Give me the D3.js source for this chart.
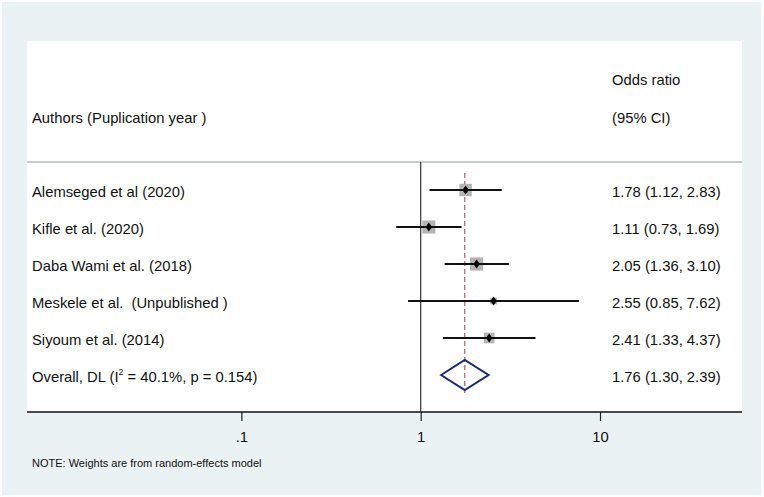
<!DOCTYPE html>
<html>
<head>
<meta charset="utf-8">
<script src="https://cdn.jsdelivr.net/npm/d3@7"></script>
<style>
  body { margin: 0; background: #fff; }
  text { font-family: "Liberation Sans", Arial, sans-serif; fill: #111; white-space: pre; }
</style>
</head>
<body>
<div id="forest"></div>
<script>
// study rows
const studies = [
  'Alemseged et al (2020)',
  'Kifle et al. (2020)',
  'Daba Wami et al. (2018)',
  'Meskele et al.  (Unpublished )',
  'Siyoum et al. (2014)'
];
const oddsRatio = [1.78, 1.11, 2.05, 2.55, 2.41];
const lowerCI = [1.12, 0.73, 1.36, 0.85, 1.33];
const upperCI = [2.83, 1.69, 3.10, 7.62, 4.37];
const weights = [23.5, 26.0, 26.5, 6.7, 17.3];

// pooled estimate
const overall = { or: 1.76, lo: 1.30, hi: 2.39, i2: '40.1%', p: '0.154' };

const tickValues = [0.1, 1, 10];
const tickLabels = ['.1', '1', '10'];

const width = 764;
const height = 497;
const fs = 14.8;

const svg = d3.select('#forest')
  .append('svg')
  .attr('width', width)
  .attr('height', height);

// graph region + plot region
svg.append('rect')
  .attr('x', 2).attr('y', 2)
  .attr('width', 759).attr('height', 493)
  .attr('fill', '#eaf2f3');

const plot = { left: 27, right: 742, top: 41, sep: 162, axis: 412 };

svg.append('rect')
  .attr('x', plot.left).attr('y', plot.top)
  .attr('width', plot.right - plot.left)
  .attr('height', plot.axis - plot.top)
  .attr('fill', '#fff');

svg.append('line')
  .attr('x1', plot.left).attr('x2', plot.right)
  .attr('y1', plot.sep).attr('y2', plot.sep)
  .attr('stroke', '#c9cccd')
  .attr('stroke-width', 2);

const xScale = d3.scaleLog()
  .domain([0.1, 10])
  .range([241.4, 600]);

const rowIdx = d3.range(studies.length + 1);
const yScale = d3.scalePoint()
  .domain(rowIdx)
  .range([190, 375]);

const sizeScale = d3.scaleSqrt()
  .domain([0, d3.max(weights)])
  .range([0, 13.2]);

// axis
const axis = svg.append('g')
  .attr('transform', `translate(0, ${plot.axis})`)
  .call(d3.axisBottom(xScale)
    .tickValues(tickValues)
    .tickFormat((d, i) => tickLabels[i])
    .tickSize(9)
    .tickSizeOuter(0)
    .tickPadding(10));

axis.select('.domain').remove();
axis.selectAll('.tick line').attr('stroke', '#222').attr('stroke-width', 1.2);
axis.selectAll('.tick text')
  .attr('font-size', fs)
  .attr('font-family', '"Liberation Sans", Arial, sans-serif')
  .attr('fill', '#111');

svg.append('line')
  .attr('x1', plot.left).attr('x2', plot.right)
  .attr('y1', plot.axis).attr('y2', plot.axis)
  .attr('stroke', '#111')
  .attr('stroke-width', 1.6);

// line of no effect
svg.append('line')
  .attr('x1', xScale(1)).attr('x2', xScale(1))
  .attr('y1', plot.sep).attr('y2', plot.axis)
  .attr('stroke', '#333')
  .attr('stroke-width', 1.2);

// overall effect line
svg.append('line')
  .attr('x1', xScale(overall.or)).attr('x2', xScale(overall.or))
  .attr('y1', 173).attr('y2', 393)
  .attr('stroke', '#c47880')
  .attr('stroke-width', 1.5)
  .attr('stroke-dasharray', '5,3');

const rows = studies.map((s, i) => ({
  label: s, or: oddsRatio[i], lo: lowerCI[i], hi: upperCI[i], w: weights[i], i
}));

// weight boxes
svg.selectAll('.box')
  .data(rows)
  .enter()
  .append('rect')
  .attr('class', 'box')
  .attr('x', d => xScale(d.or) - sizeScale(d.w) / 2)
  .attr('y', d => yScale(d.i) - sizeScale(d.w) / 2)
  .attr('width', d => sizeScale(d.w))
  .attr('height', d => sizeScale(d.w))
  .attr('fill', '#b4b4b4');

// confidence intervals
svg.selectAll('.ci')
  .data(rows)
  .enter()
  .append('line')
  .attr('class', 'ci')
  .attr('x1', d => xScale(d.lo))
  .attr('x2', d => xScale(d.hi))
  .attr('y1', d => yScale(d.i))
  .attr('y2', d => yScale(d.i))
  .attr('stroke', '#111')
  .attr('stroke-width', 2);

// point estimates
svg.selectAll('.pt')
  .data(rows)
  .enter()
  .append('path')
  .attr('class', 'pt')
  .attr('d', d => {
    const cx = xScale(d.or), cy = yScale(d.i);
    return `M${cx},${cy - 4.5}L${cx + 3.2},${cy}L${cx},${cy + 4.5}L${cx - 3.2},${cy}Z`;
  })
  .attr('fill', '#000');

// pooled diamond
const oy = yScale(studies.length);
svg.append('path')
  .attr('d', `M${xScale(overall.lo)},${oy}L${xScale(overall.or)},${oy - 15}` +
    `L${xScale(overall.hi)},${oy}L${xScale(overall.or)},${oy + 15}Z`)
  .attr('fill', 'none')
  .attr('stroke', '#1c2878')
  .attr('stroke-width', 2);

// text columns
const fmt = d3.format('.2f');

svg.selectAll('.lab')
  .data(rows)
  .enter()
  .append('text')
  .attr('class', 'lab')
  .attr('x', 32)
  .attr('y', d => yScale(d.i) + 6.5)
  .attr('font-size', fs)
  .text(d => d.label);

const ov = svg.append('text')
  .attr('x', 32)
  .attr('y', oy + 6.5)
  .attr('font-size', fs);
ov.append('tspan').text('Overall, DL (I');
ov.append('tspan').attr('font-size', 8.5).attr('dy', -7).text('2');
ov.append('tspan').attr('dy', 7).text(` = ${overall.i2}, p = ${overall.p})`);

svg.selectAll('.est')
  .data(rows)
  .enter()
  .append('text')
  .attr('class', 'est')
  .attr('x', 612)
  .attr('y', d => yScale(d.i) + 6.5)
  .attr('font-size', fs)
  .text(d => `${fmt(d.or)} (${fmt(d.lo)}, ${fmt(d.hi)})`);

svg.append('text')
  .attr('x', 612)
  .attr('y', oy + 6.5)
  .attr('font-size', fs)
  .text(`${fmt(overall.or)} (${fmt(overall.lo)}, ${fmt(overall.hi)})`);

// headers
svg.append('text').attr('x', 612).attr('y', 85).attr('font-size', fs).text('Odds ratio');
svg.append('text').attr('x', 612).attr('y', 123).attr('font-size', fs).text('(95% CI)');
svg.append('text').attr('x', 32).attr('y', 123).attr('font-size', fs).text('Authors (Puplication year )');

// note
svg.append('text')
  .attr('x', 32)
  .attr('y', 467)
  .attr('font-size', 11)
  .text('NOTE: Weights are from random-effects model');
</script>
</body>
</html>
